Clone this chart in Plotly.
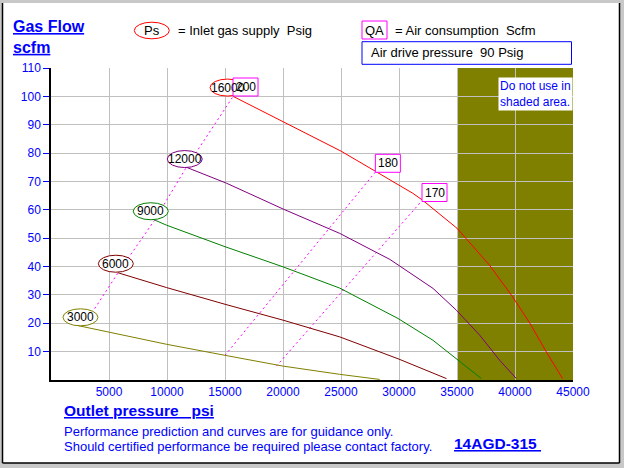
import plotly.graph_objects as go

FONT = "Liberation Sans, Arial, sans-serif"
BLUE = "#0000FF"

# ---- data ----
x_ticks = [5000, 10000, 15000, 20000, 25000, 30000, 35000, 40000, 45000]
y_ticks = [10, 20, 30, 40, 50, 60, 70, 80, 90, 100, 110]

ps_labels = ["16000", "12000", "9000", "6000", "3000"]
ps_colors = ["#FF0000", "#800080", "#008000", "#800000", "#808000"]
ps_label_x = [15220, 11530, 8600, 5590, 2540]
ps_label_y = [103.1, 77.9, 59.5, 41.0, 22.1]

red_x = [15700, 20000, 25000, 28000, 31200, 32000, 35000, 37800, 39800, 41300, 42700, 44100]
red_y = [100, 91, 80.7, 73.5, 65.8, 63.5, 53.5, 40.5, 29.3, 19.9, 9.9, 0.5]
purple_x = [11670, 15120, 20000, 24890, 29220, 32930, 34950, 36960, 38690, 40120]
purple_y = [75, 69.4, 60.3, 51.7, 42.5, 32.3, 24.6, 15.8, 6.9, 0.5]
green_x = [8940, 9950, 15000, 20000, 24890, 29910, 32930, 34950, 37100]
green_y = [56.4, 54.6, 47, 39.9, 32.4, 21.7, 14, 7.5, 0.5]
maroon_x = [5780, 9950, 15000, 20000, 24890, 29910, 34090]
maroon_y = [37.8, 32.6, 26.7, 21.1, 15.2, 7.5, 0.5]
olive_x = [2190, 5000, 9950, 15000, 20000, 24890, 28340]
olive_y = [19.3, 16.9, 12.6, 8.7, 4.9, 2.0, 0.2]

curves_x = [red_x, purple_x, green_x, maroon_x, olive_x]
curves_y = [red_y, purple_y, green_y, maroon_y, olive_y]

qa_labels = ["200", "180", "170"]
qa_label_x = [16770, 29040, 33060]
qa_label_y = [103.3, 76.4, 66.1]
qa1_x = [3770, 5780, 8940, 11670, 15700]
qa1_y = [25.2, 37.8, 56.4, 75, 100]
qa2_x = [15000, 28000]
qa2_y = [8.7, 73.5]
qa3_x = [19430, 31930]
qa3_y = [4.9, 63.0]
qa_lines_x = [qa1_x, qa2_x, qa3_x]
qa_lines_y = [qa1_y, qa2_y, qa3_y]

shade_x = [35000, 45000]

fig = go.Figure()

for qx, qy in zip(qa_lines_x, qa_lines_y):
    fig.add_trace(go.Scatter(x=qx, y=qy, mode="lines",
                             line=dict(color="#FF00FF", width=1, dash="2px,3px"),
                             hoverinfo="skip", showlegend=False))

for cx, cy, col in zip(curves_x, curves_y, ps_colors):
    fig.add_trace(go.Scatter(x=cx, y=cy, mode="lines",
                             line=dict(color=col, width=1),
                             hoverinfo="skip", showlegend=False))

shapes = []
def px2paper_x(px):
    return (px - 51) / 522.0
def px2paper_y(py):
    return (380 - py) / 312.0

# page frame
shapes.append(dict(type="rect", xref="paper", yref="paper", layer="below",
                   x0=px2paper_x(2.5), x1=px2paper_x(619.5),
                   y0=px2paper_y(463), y1=px2paper_y(3),
                   fillcolor="white", line=dict(width=0)))
for (ax0, ay0, ax1, ay1) in [(2.5, 3, 2.5, 463), (2.5, 463, 619.5, 463), (619.5, 3, 619.5, 463)]:
    shapes.append(dict(type="line", xref="paper", yref="paper", layer="above",
                       x0=px2paper_x(ax0), x1=px2paper_x(ax1),
                       y0=px2paper_y(ay0), y1=px2paper_y(ay1),
                       line=dict(color="black", width=1.5)))

# shaded area
shapes.append(dict(type="rect", xref="x", yref="y", layer="below",
                   x0=shade_x[0], x1=shade_x[1], y0=0, y1=110,
                   fillcolor="#808000", line=dict(width=0)))

# ellipse labels
for lx, ly, col in zip(ps_label_x, ps_label_y, ps_colors):
    shapes.append(dict(type="circle", xref="x", yref="y", layer="above",
                       xsizemode="pixel", ysizemode="pixel",
                       xanchor=lx, yanchor=ly, x0=-17.5, x1=17.5, y0=-8.5, y1=8.5,
                       fillcolor="white", line=dict(color=col, width=1)))
# QA boxes
for lx, ly in zip(qa_label_x, qa_label_y):
    shapes.append(dict(type="rect", xref="x", yref="y", layer="above",
                       xsizemode="pixel", ysizemode="pixel",
                       xanchor=lx, yanchor=ly, x0=-12.5, x1=12.5, y0=-9, y1=9,
                       fillcolor="white", line=dict(color="#FF00FF", width=1)))

# legend shapes
shapes.append(dict(type="circle", xref="paper", yref="paper", layer="above",
                   xsizemode="pixel", ysizemode="pixel",
                   xanchor=px2paper_x(151.8), yanchor=px2paper_y(30.5),
                   x0=-17.5, x1=17.5, y0=-8.3, y1=8.3,
                   fillcolor="white", line=dict(color="#FF0000", width=1)))
shapes.append(dict(type="rect", xref="paper", yref="paper", layer="above",
                   x0=px2paper_x(362), x1=px2paper_x(387), y0=px2paper_y(39), y1=px2paper_y(21),
                   fillcolor="white", line=dict(color="#FF00FF", width=1)))
shapes.append(dict(type="rect", xref="paper", yref="paper", layer="above",
                   x0=px2paper_x(362), x1=px2paper_x(571.5), y0=px2paper_y(64.3), y1=px2paper_y(41.7),
                   fillcolor="white", line=dict(color="#0000FF", width=1)))

ann = []
for t, lx, ly in zip(ps_labels, ps_label_x, ps_label_y):
    ann.append(dict(x=lx, y=ly, xref="x", yref="y", text=t, showarrow=False,
                    xanchor="center", yanchor="middle",
                    font=dict(family=FONT, size=12, color="black")))
for t, lx, ly in zip(qa_labels, qa_label_x, qa_label_y):
    ann.append(dict(x=lx, y=ly, xref="x", yref="y", text=t, showarrow=False,
                    xanchor="center", yanchor="middle",
                    font=dict(family=FONT, size=12, color="black")))

ann.append(dict(x=45000, y=106.9, xref="x", yref="y", xanchor="right", yanchor="top",
                text="Do not use in<br>shaded area.", align="left", showarrow=False,
                bgcolor="white", borderpad=1,
                font=dict(family=FONT, size=12, color=BLUE)))

def pann(px, py, text, size, color, xanchor="left", align="left"):
    ann.append(dict(x=px2paper_x(px), y=px2paper_y(py), xref="paper", yref="paper",
                    xanchor=xanchor, yanchor="middle", align=align, showarrow=False,
                    text=text, font=dict(family=FONT, size=size, color=color)))

pann(11, 37, "<b><u>Gas Flow</u></b><br><b><u>scfm</u></b>", 16, BLUE)
pann(151.8, 30.5, "Ps", 13, "black", xanchor="center")
pann(176, 30.5, "= Inlet gas supply&nbsp; Psig", 13, "black")
pann(374.5, 30, "QA", 13, "black", xanchor="center")
pann(393, 30, "= Air consumption&nbsp; Scfm", 13, "black")
pann(368.5, 53, "Air drive pressure&nbsp; 90 Psig", 13, "black")
pann(61.5, 410, "<b><u>Outlet pressure&nbsp;&nbsp; psi</u></b>", 15.5, BLUE)
pann(61.5, 431, "Performance prediction and curves are for guidance only.", 13, BLUE)
pann(61.5, 446.5, "Should certified performance be required please contact factory.", 13, BLUE)
pann(452, 443, "<b><u>14AGD-315 </u></b>", 15.5, BLUE)

fig.update_layout(
    width=624, height=468,
    margin=dict(l=51, r=51, t=68, b=88),
    paper_bgcolor="#C8C8C8", plot_bgcolor="white",
    shapes=shapes, annotations=ann, showlegend=False,
    xaxis=dict(range=[0, 45000], tickvals=x_ticks, ticktext=[str(v) for v in x_ticks],
               showgrid=True, gridcolor="#C0C0C0", gridwidth=1, zeroline=False,
               showline=True, linecolor="black", linewidth=1.5, ticks="",
               tickfont=dict(family=FONT, size=12, color=BLUE)),
    yaxis=dict(range=[0, 110], tickvals=y_ticks, ticktext=[str(v) for v in y_ticks],
               showgrid=True, gridcolor="#C0C0C0", gridwidth=1, zeroline=False,
               showline=True, linecolor="black", linewidth=1.5, ticks="outside",
               ticklen=6, tickcolor=BLUE,
               tickfont=dict(family=FONT, size=12, color=BLUE)),
)

fig.write_html("out.html", config={"displayModeBar": False},
               post_script="document.body.style.margin='0';document.body.style.padding='0';document.body.style.background='#C8C8C8';")
